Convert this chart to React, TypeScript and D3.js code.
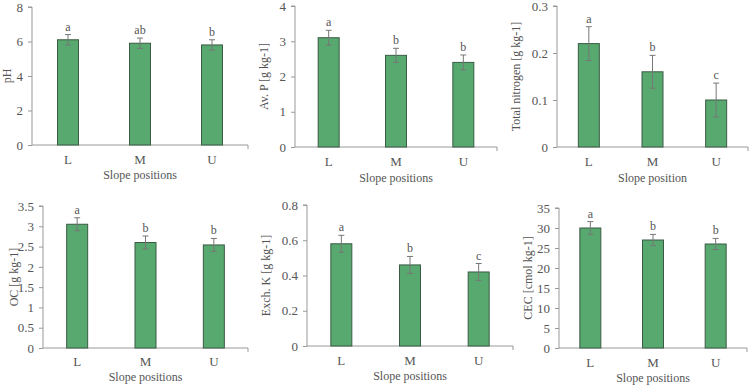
import React, { useEffect, useRef } from "react";
import * as d3 from "d3";

// categories and per-panel values
const slopes = ["L", "M", "U"];

const phMean = [6.1, 5.9, 5.8];
const phErr = [0.3, 0.3, 0.3];
const phLetters = ["a", "ab", "b"];

const avpMean = [3.1, 2.6, 2.4];
const avpErr = [0.21, 0.2, 0.21];
const avpLetters = ["a", "b", "b"];

const tnMean = [0.22, 0.16, 0.1];
const tnErr = [0.036, 0.035, 0.036];
const tnLetters = ["a", "b", "c"];

const ocMean = [3.05, 2.6, 2.54];
const ocErr = [0.16, 0.16, 0.16];
const ocLetters = ["a", "b", "b"];

const kMean = [0.58, 0.46, 0.42];
const kErr = [0.048, 0.048, 0.048];
const kLetters = ["a", "b", "c"];

const cecMean = [30, 27, 26];
const cecErr = [1.6, 1.4, 1.4];
const cecLetters = ["a", "b", "b"];

const yTicksPh = [0, 2, 4, 6, 8];
const yTicksAvp = [0, 1, 2, 3, 4];
const yTicksTn = [0, 0.1, 0.2, 0.3];
const yTicksOc = [0, 0.5, 1, 1.5, 2, 2.5, 3, 3.5];
const yTicksK = [0, 0.2, 0.4, 0.6, 0.8];
const yTicksCec = [0, 5, 10, 15, 20, 25, 30, 35];

const panels = [
  { mean: phMean, err: phErr, letters: phLetters, ticks: yTicksPh, ylabel: "pH", xlabel: "Slope positions",
    left: 32, right: 248, top: 7, bottom: 145, labelX: 7, catY: 164, titleY: 179 },
  { mean: avpMean, err: avpErr, letters: avpLetters, ticks: yTicksAvp, ylabel: "Av. P [g kg-1]", xlabel: "Slope positions",
    left: 295, right: 497, top: 6, bottom: 147, labelX: 264, catY: 166, titleY: 182 },
  { mean: tnMean, err: tnErr, letters: tnLetters, ticks: yTicksTn, ylabel: "Total nitrogen [g kg-1]", xlabel: "Slope position",
    left: 557, right: 748, top: 6, bottom: 147, labelX: 516, catY: 166, titleY: 182 },
  { mean: ocMean, err: ocErr, letters: ocLetters, ticks: yTicksOc, ylabel: "OC [g kg-1]", xlabel: "Slope positions",
    left: 43, right: 248, top: 206, bottom: 348, labelX: 14, catY: 366, titleY: 381 },
  { mean: kMean, err: kErr, letters: kLetters, ticks: yTicksK, ylabel: "Exch. K [g kg-1]", xlabel: "Slope positions",
    left: 307, right: 513, top: 205, bottom: 346, labelX: 266, catY: 365, titleY: 380 },
  { mean: cecMean, err: cecErr, letters: cecLetters, ticks: yTicksCec, ylabel: "CEC [cmol kg-1]", xlabel: "Slope positions",
    left: 559, right: 747, top: 208, bottom: 348, labelX: 528, catY: 367, titleY: 382 },
];

const textColor = "#555";
const axisColor = "#999";
const font = "'Liberation Serif', 'Times New Roman', serif";
const fontSize = 12;

export default function App() {
  const ref = useRef<SVGSVGElement>(null);

  useEffect(() => {
    const svg = d3.select(ref.current);
    svg.selectAll("*").remove();

    panels.forEach(p => {
      const g = svg.append("g").attr("font-family", font).attr("font-size", fontSize);
      const x = d3.scaleBand().domain(slopes).range([p.left, p.right]);
      const yMax = p.ticks[p.ticks.length - 1];
      const y = d3.scaleLinear().domain([0, yMax]).range([p.bottom, p.top]);
      const barW = 21;
      const fmt = (d: number) => String(d);

      // y axis
      const ya = g.append("g")
        .attr("transform", "translate(" + p.left + ",0)")
        .call(d3.axisLeft(y).tickValues(p.ticks).tickSize(4).tickPadding(5).tickFormat(fmt as any))
        .attr("font-family", font)
        .attr("font-size", fontSize + 1);
      ya.select(".domain").attr("stroke", axisColor).attr("d", `M-4,${p.top}H0V${p.bottom}`);
      ya.selectAll(".tick line").attr("stroke", axisColor);
      ya.selectAll(".tick text").attr("fill", textColor);

      // x axis line with end tick
      g.append("path")
        .attr("d", `M${p.left},${p.bottom}H${p.right}V${p.bottom + 4}`)
        .attr("fill", "none")
        .attr("stroke", axisColor);

      slopes.forEach((s, i) => {
        const cx = (x(s) as number) + x.bandwidth() / 2;
        const v = p.mean[i];
        g.append("rect")
          .attr("x", cx - barW / 2)
          .attr("y", y(v))
          .attr("width", barW)
          .attr("height", p.bottom - y(v))
          .attr("fill", "#57a96f")
          .attr("stroke", "#3b5a44")
          .attr("stroke-width", 1);

        const hi = y(v + p.err[i]);
        const lo = y(v - p.err[i]);
        g.append("line").attr("x1", cx).attr("x2", cx).attr("y1", hi).attr("y2", lo)
          .attr("stroke", "#777").attr("stroke-width", 1);
        [hi, lo].forEach(yy => {
          g.append("line").attr("x1", cx - 3).attr("x2", cx + 3).attr("y1", yy).attr("y2", yy)
            .attr("stroke", "#777").attr("stroke-width", 1);
        });

        g.append("text")
          .attr("x", cx)
          .attr("y", hi - 4)
          .attr("text-anchor", "middle")
          .attr("fill", textColor)
          .text(p.letters[i]);

        g.append("text")
          .attr("x", cx)
          .attr("y", p.catY)
          .attr("text-anchor", "middle")
          .attr("font-size", fontSize + 1)
          .attr("fill", textColor)
          .text(s);
      });

      g.append("text")
        .attr("x", (p.left + p.right) / 2)
        .attr("y", p.titleY)
        .attr("text-anchor", "middle")
        .attr("fill", textColor)
        .text(p.xlabel);

      g.append("text")
        .attr("transform", `translate(${p.labelX},${(p.top + p.bottom) / 2}) rotate(-90)`)
        .attr("text-anchor", "middle")
        .attr("dy", "0.35em")
        .attr("fill", textColor)
        .text(p.ylabel);
    });
  }, []);

  return (
    <svg ref={ref} width={750} height={386}
      style={{ position: "absolute", left: 0, top: 0, background: "#fff" }} />
  );
}
